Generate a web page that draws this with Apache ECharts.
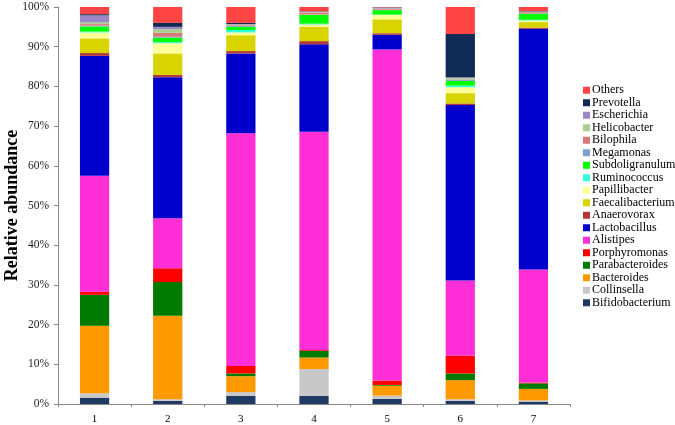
<!DOCTYPE html>
<html>
<head>
<meta charset="utf-8">
<script src="https://cdn.jsdelivr.net/npm/echarts@6/dist/echarts.min.js"></script>
<style>html,body{margin:0;padding:0;background:#fff}#c{width:675px;height:425px}</style>
</head>
<body>
<div id="c"></div>
<script>
var categories = ['1','2','3','4','5','6','7'];
var yTicks = ['0%','10%','20%','30%','40%','50%','60%','70%','80%','90%','100%'];
// values in percent, bottom-to-top stacking order
var Bifidobacterium  = [1.6, 0.8, 2.1, 2.1, 1.3, 0.8, 0.6];
var Collinsella      = [1.1, 0.4, 0.9, 6.7, 0.8, 0.4, 0.3];
var Bacteroides      = [17.0, 21.0, 4.0, 2.9, 2.5, 4.8, 2.9];
var Parabacteroides  = [7.8, 8.5, 0.7, 1.7, 0.2, 1.7, 1.4];
var Porphyromonas    = [0.8, 3.5, 1.9, 0.2, 1.1, 4.5, 0.2];
var Alistipes        = [29.2, 12.6, 58.6, 55.0, 83.4, 18.9, 28.5];
var Lactobacillus    = [30.2, 35.5, 20.1, 22.0, 3.7, 44.2, 60.6];
var Anaerovorax      = [0.7, 0.6, 0.6, 0.8, 0.4, 0.4, 0.3];
var Faecalibacterium = [3.7, 5.4, 4.0, 3.6, 3.5, 2.6, 1.4];
var Papillibacter    = [1.5, 2.6, 0.7, 0.6, 1.1, 1.5, 0.4];
var Ruminococcus     = [0.2, 0.3, 0.6, 0.2, 0.1, 0.4, 0.2];
var Subdoligranulum  = [1.3, 1.1, 0.8, 2.2, 1.1, 1.2, 1.5];
var Megamonas        = [0.2, 0.2, 0.2, 0.1, 0.1, 0.3, 0.1];
var Bilophila        = [0.4, 1.0, 0.2, 0.5, 0.2, 0.1, 0.3];
var Helicobacter     = [0.4, 0.9, 0.2, 0.1, 0.1, 0.3, 0.1];
var Escherichia      = [1.8, 0.6, 0.1, 0.1, 0.2, 0.2, 0.1];
var Prevotella       = [0.3, 1.0, 0.3, 0.1, 0.1, 10.9, 0.1];
var Others           = [1.8, 4.0, 4.0, 1.1, 0.1, 6.8, 1.0];

var seriesDefs = [
  ['Bifidobacterium', Bifidobacterium, '#1F3B63'],
  ['Collinsella', Collinsella, '#C8C8C8'],
  ['Bacteroides', Bacteroides, '#FF9900'],
  ['Parabacteroides', Parabacteroides, '#007A00'],
  ['Porphyromonas', Porphyromonas, '#FF0000'],
  ['Alistipes', Alistipes, '#FF2ED6'],
  ['Lactobacillus', Lactobacillus, '#0000CC'],
  ['Anaerovorax', Anaerovorax, '#B03838'],
  ['Faecalibacterium', Faecalibacterium, '#D9D300'],
  ['Papillibacter', Papillibacter, '#FFFF99'],
  ['Ruminococcus', Ruminococcus, '#33FFDD'],
  ['Subdoligranulum', Subdoligranulum, '#00FF00'],
  ['Megamonas', Megamonas, '#7F9FD0'],
  ['Bilophila', Bilophila, '#D87878'],
  ['Helicobacter', Helicobacter, '#A9D18E'],
  ['Escherichia', Escherichia, '#9C88C4'],
  ['Prevotella', Prevotella, '#0F2A55'],
  ['Others', Others, '#FF4444']
];

var series = seriesDefs.map(function(d){
  return {
    name: d[0], type: 'bar', stack: 'total', data: d[1],
    barWidth: '40%',
    itemStyle: { color: d[2] },
    emphasis: { disabled: true }
  };
});

var chart = echarts.init(document.getElementById('c'));
chart.setOption({
  animation: false,
  textStyle: { fontFamily: 'Liberation Serif' },
  grid: { left: 58, right: 105, top: 7, bottom: 21, containLabel: false, outerBoundsMode: 'none' },
  legend: {
    orient: 'vertical',
    left: 578, top: 79,
    itemWidth: 7, itemHeight: 7, itemGap: 0,
    icon: 'rect',
    data: seriesDefs.map(function(d){return d[0];}).reverse(),
    textStyle: { fontFamily: 'Liberation Serif', fontSize: 12, color: '#000', lineHeight: 12.5, padding: [0,0,0,-3] }
  },
  xAxis: {
    type: 'category', data: categories,
    axisLine: { lineStyle: { color: '#888' } },
    axisTick: { show: true, alignWithLabel: false, length: 3, lineStyle: { color: '#888' } },
    axisLabel: { fontFamily: 'Liberation Serif', fontSize: 11, color: '#000', margin: 10 }
  },
  yAxis: {
    type: 'value', min: 0, max: 100, interval: 10,
    name: 'Relative abundance', nameLocation: 'middle', nameGap: 37, nameMoveOverlap: false,
    nameTextStyle: { fontFamily: 'Liberation Serif', fontSize: 18, fontWeight: 'bold', color: '#000' },
    axisLine: { show: true, lineStyle: { color: '#888' } },
    axisTick: { show: true, inside: false, length: 4, lineStyle: { color: '#888' } },
    splitLine: { show: false },
    axisLabel: {
      fontFamily: 'Liberation Serif', fontSize: 11.5, color: '#222', margin: 9,
      formatter: function(v){ return yTicks[Math.round(v/10)]; }
    }
  },
  series: series
});
</script>
</body>
</html>
